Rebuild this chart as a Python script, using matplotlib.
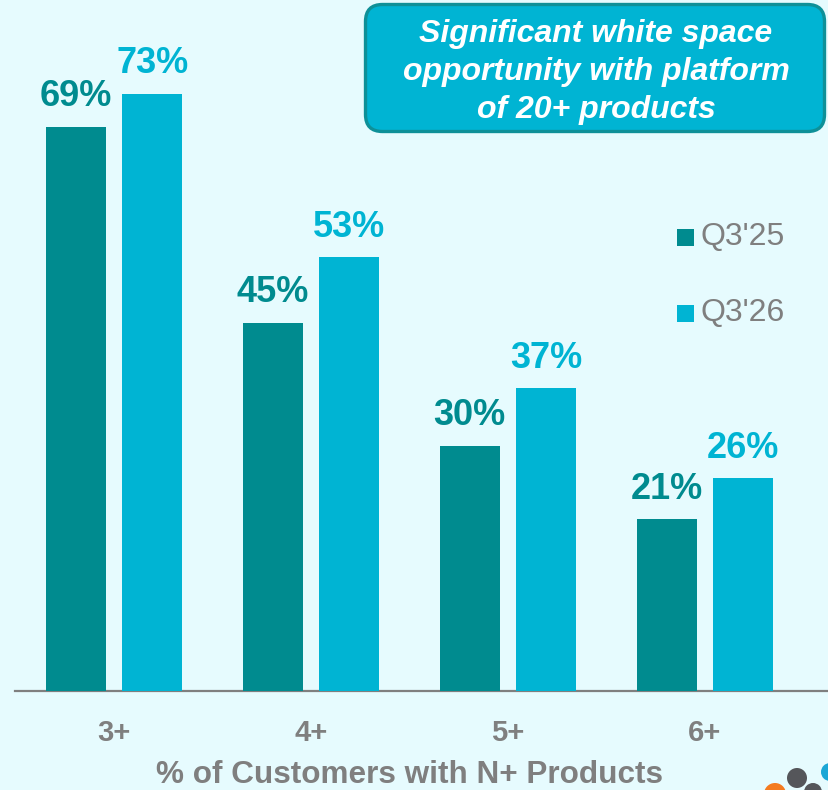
import matplotlib.pyplot as plt
import matplotlib.patches as mpatches
import numpy as np

# ── Data ──────────────────────────────────────────────────────────────────────
categories = ["3+", "4+", "5+", "6+"]
q3_25 = [69, 45, 30, 21]
q3_26 = [73, 53, 37, 26]
series_names = ["Q3'25", "Q3'26"]
callout = "Significant white space\nopportunity with platform\nof 20+ products"
xlabel = "% of Customers with N+ Products"

BG = "#E6FBFE"
DARK = "#008B8F"
LIGHT = "#00B4D3"
GRAY = "#7F7F7F"
FONT = "Liberation Sans"

W, H = 829, 790
fig = plt.figure(figsize=(W / 100, H / 100), dpi=100)
fig.patch.set_facecolor(BG)

# ── Bar chart ─────────────────────────────────────────────────────────────────
# axes: left edge 15px, baseline at y=691px, top at y=0
ax = fig.add_axes([15 / W, 1 - 691 / H, 1 - 15 / W, 691 / H])
ax.set_facecolor("none")

x = np.arange(len(categories))
width = 0.305
off = 0.194
b1 = ax.bar(x - off, q3_25, width, color=DARK, zorder=3)
b2 = ax.bar(x + off, q3_26, width, color=LIGHT, zorder=3)

ax.set_xlim(-0.503, 3.63)
ax.set_ylim(0, 691 / 8.18)

for bars, vals, col in [(b1, q3_25, DARK), (b2, q3_26, LIGHT)]:
    for b, v in zip(bars, vals):
        ax.annotate(f"{v}%", (b.get_x() + b.get_width() / 2, v),
                    xytext=(0, 9), textcoords="offset points",
                    ha="center", va="bottom", color=col,
                    fontsize=26, fontweight="bold", family=FONT)

for s in ["top", "right", "left"]:
    ax.spines[s].set_visible(False)
ax.spines["bottom"].set_color(GRAY)
ax.spines["bottom"].set_linewidth(1.6)
ax.set_yticks([])
ax.set_xticks(x)
ax.set_xticklabels(categories, fontsize=21, fontweight="bold",
                   color=GRAY, family=FONT)
ax.tick_params(axis="x", length=0, pad=20)

# ── Overlay in pixel coordinates (text, legend, callout, logo) ───────────────
ov = fig.add_axes([0, 0, 1, 1])
ov.set_xlim(0, W)
ov.set_ylim(H, 0)
ov.axis("off")
ov.set_facecolor("none")

ov.text(410, 775, xlabel, ha="center", va="center",
        fontsize=22.7, fontweight="bold", color=GRAY, family=FONT)

for name, col, py in [(series_names[0], DARK, 237), (series_names[1], LIGHT, 313)]:
    ov.add_patch(mpatches.Rectangle((677, py - 8.5), 17, 17,
                                    facecolor=col, edgecolor="none"))
    ov.text(701, py, name, ha="left", va="center",
            fontsize=23, color=GRAY, family=FONT)

box = mpatches.FancyBboxPatch((365.5, 4.5), 459, 127,
                              boxstyle="round,pad=0,rounding_size=17",
                              facecolor=LIGHT, edgecolor="#0E9098", linewidth=2.4)
ov.add_patch(box)
ov.text(596, 72, callout, ha="center", va="center",
        fontsize=23, fontweight="bold", fontstyle="italic", color="white",
        family=FONT, linespacing=1.33)

# partial logo in the corner
for cx, cy, r, col in [(775, 794, 11, "#F47B20"), (797, 778, 10, "#55565A"),
                       (813, 792, 9, "#55565A"), (830, 772, 9, "#1BA7D6")]:
    ov.add_patch(mpatches.Circle((cx, cy), r, facecolor=col, edgecolor="none"))

fig.savefig("out.png", dpi=100, facecolor=BG)
